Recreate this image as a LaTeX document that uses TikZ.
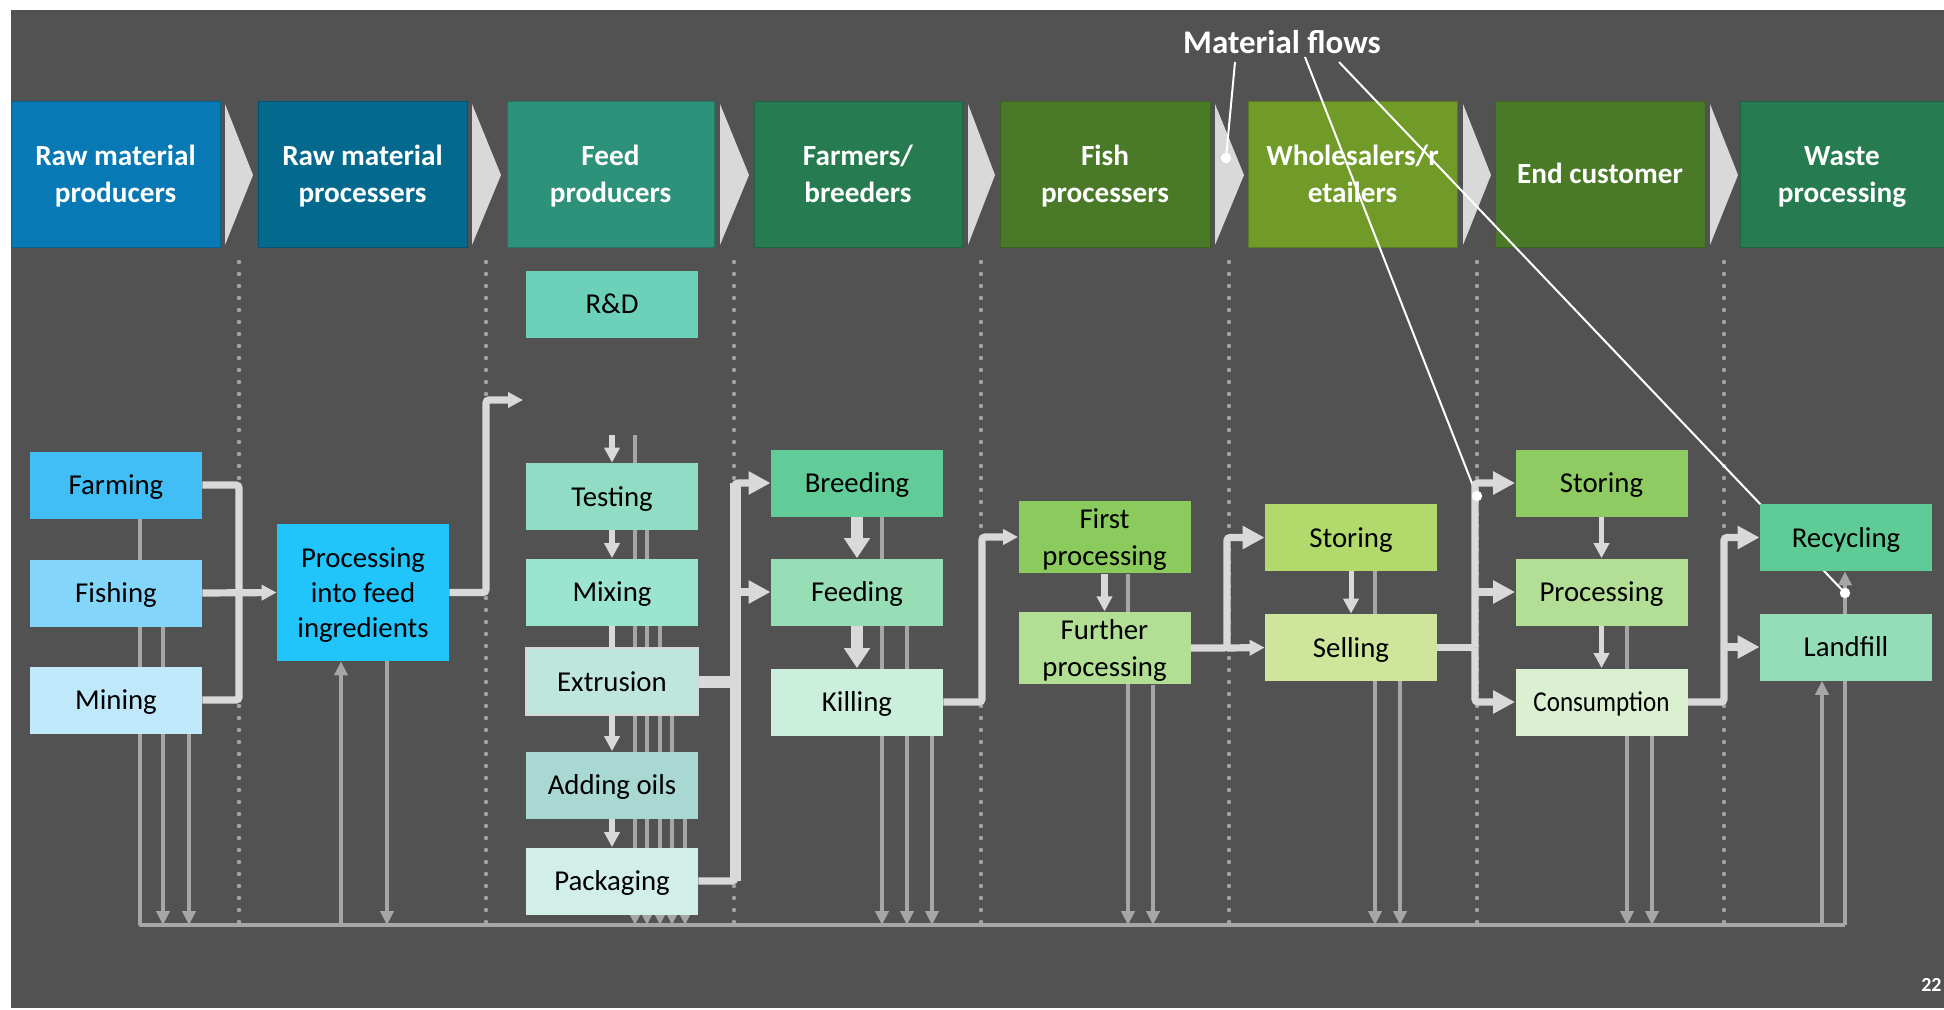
\documentclass[tikz,border=0pt]{standalone}
\usepackage{fontspec}
\setmainfont{Carlito}
\usepackage{graphicx}
\usetikzlibrary{arrows.meta}
\definecolor{bgc}{HTML}{525252}
\definecolor{flowc}{HTML}{D9D9D9}
\definecolor{thinc}{HTML}{A6A6A6}
\definecolor{dotc}{HTML}{A3A3A3}
\definecolor{chevc}{HTML}{D9D9D9}
\definecolor{extb}{HTML}{D6D6D6}
\definecolor{hA}{HTML}{0779B5}
\definecolor{hB}{HTML}{036A8E}
\definecolor{hC}{HTML}{2E917A}
\definecolor{hD}{HTML}{267C50}
\definecolor{hE}{HTML}{4A7A28}
\definecolor{hF}{HTML}{719B28}
\definecolor{cFarm}{HTML}{41BEF5}
\definecolor{cFish}{HTML}{84D5FA}
\definecolor{cMine}{HTML}{C0E8FB}
\definecolor{cProc}{HTML}{22C4FC}
\definecolor{cRD}{HTML}{6DD1B9}
\definecolor{cTest}{HTML}{91DCC4}
\definecolor{cMix}{HTML}{9BE5D0}
\definecolor{cExt}{HTML}{BEE6DD}
\definecolor{cOil}{HTML}{A9D7D1}
\definecolor{cPack}{HTML}{D1EFE8}
\definecolor{cBreed}{HTML}{62CC98}
\definecolor{cFeed}{HTML}{97DDB6}
\definecolor{cKill}{HTML}{CCEEDC}
\definecolor{cFirst}{HTML}{8BCB5E}
\definecolor{cFurther}{HTML}{B3DF95}
\definecolor{cStoreW}{HTML}{B2D96B}
\definecolor{cSell}{HTML}{CFE59C}
\definecolor{cStoreE}{HTML}{8ECC63}
\definecolor{cProcE}{HTML}{B2DE95}
\definecolor{cCons}{HTML}{DBEFD1}
\definecolor{cRecy}{HTML}{5FCC98}
\definecolor{cLand}{HTML}{95DDB8}
\newcommand\bxfont{\fontsize{14.4pt}{17.5pt}\selectfont}
\newcommand\hdfont{\fontsize{14.6pt}{17.5pt}\selectfont\bfseries}
\newcommand\pS{\rule[-3.9pt]{0pt}{17.6pt}}
\pgfdeclarelayer{bglayer}
\pgfdeclarelayer{lnlayer}
\pgfdeclarelayer{toplayer}
\pgfsetlayers{bglayer,lnlayer,main,toplayer}
\tikzset{
  hdr/.style={fill=#1, draw=#1!80!black, line width=0.5pt, minimum height=73pt,
    inner sep=0pt, text=white, font=\hdfont, align=center},
  box/.style={fill=#1, minimum width=86pt, minimum height=33.5pt, inner sep=0pt,
    font=\bxfont, align=center, text=black},
  dotline/.style={draw=dotc, line width=2.2pt, line cap=round, dash pattern=on 0pt off 6pt},
  wasteline/.style={draw=thinc, line width=1.7pt, line join=round},
  waste/.style={wasteline, -{Triangle[width=6.6pt,length=7pt]}},
  flow/.style={draw=flowc, line width=3.6pt, rounded corners=1.5pt},
  flowM/.style={draw=flowc, line width=3.2pt},
  flowS/.style={draw=flowc, line width=2.5pt},
  flowL/.style={draw=flowc, line width=6pt},
  tipN/.style={-{Triangle[width=7.5pt,length=7.5pt]}},
  tipB/.style={-{Triangle[width=11pt,length=11pt]}},
  tipL/.style={-{Triangle[width=12.5pt,length=10pt]}},
  callout/.style={draw=white, line width=1pt},
}
\newcommand\wasteDown[2]{\draw[waste] (#1,0 |- #2.south) -- (#1,0 |- bot);}
\begin{document}
\begin{tikzpicture}[x=0.5pt,y=-0.5pt]
\useasboundingbox (0,0) rectangle (1944,1009);
\begin{pgfonlayer}{bglayer}
\fill[white] (0,0) rectangle (1944,1009);
\fill[bgc] (11,10) rectangle (1944,1008);
% dotted separators
\foreach \xx in {239,486,734,981,1229,1477,1724}
  \draw[dotline] (\xx,262) -- (\xx,925);
% headers
\node[hdr=hA, minimum width=104.5pt] (h1) at (115.5,174) {\pS Raw material\\producers\pS};
\node[hdr=hB, minimum width=104.5pt] (h2) at (362.5,174) {\pS Raw material\\processers\pS};
\node[hdr=hC, minimum width=103.5pt] (h3) at (610.5,174) {\pS Feed\\producers\pS};
\node[hdr=hD, minimum width=104pt] (h4) at (858,174) {\pS Farmers/\\breeders\pS};
\node[hdr=hE, minimum width=105pt] (h5) at (1105,174) {\pS Fish\\processers\pS};
\node[hdr=hF, minimum width=104.5pt] (h6) at (1352.5,174) {\pS Wholesalers/r\\etailers\pS};
\node[hdr=hE, minimum width=105pt] (h7) at (1600,174) {\pS End customer\pS};
\node[hdr=hD, minimum width=102pt] (h8) at (1842,174) {\pS Waste\\processing\pS};
% chevrons
\foreach \l/\t in {225/253,472/501,720/749,968/995,1215/1244,1463/1491,1710/1738}
  \fill[chevc] (\l,104) -- (\t,175) -- (\l,245) -- cycle;
\end{pgfonlayer}

% process boxes
\node[box=cFarm] (farming) at (116,485) {\pS Farming\pS};
\node[box=cFish] (fishing) at (116,593) {\pS Fishing\pS};
\node[box=cMine] (mining) at (116,700) {\pS Mining\pS};
\node[box=cProc, minimum height=68.5pt] (procfeed) at (363,592.5) {\pS Processing\\into feed\\ingredients\pS};
\node[box=cRD] (rd) at (612,304) {\pS R\&D\pS};
\node[box=cTest] (testing) at (612,496.5) {\pS Testing\pS};
\node[box=cMix] (mixing) at (612,592) {\pS Mixing\pS};
\node[box=cExt, minimum width=86pt, minimum height=33.5pt, draw=extb, line width=0.9pt] (extrusion) at (612,681.5) {\pS Extrusion\pS};
\node[box=cOil] (oils) at (612,785) {\pS Adding oils\pS};
\node[box=cPack] (packaging) at (612,881) {\pS Packaging\pS};
\node[box=cBreed] (breeding) at (857,483) {\pS Breeding\pS};
\node[box=cFeed] (feeding) at (857,592) {\pS Feeding\pS};
\node[box=cKill] (killing) at (857,702) {\pS Killing\pS};
\node[box=cFirst] (firstproc) at (1104.5,537) {\pS First\\processing\pS};
\node[box=cFurther] (furtherproc) at (1104.5,648) {\pS Further\\processing\pS};
\node[box=cStoreW] (storingW) at (1351,537.5) {\pS Storing\pS};
\node[box=cSell] (selling) at (1351,647.5) {\pS Selling\pS};
\node[box=cStoreE] (storingE) at (1601.5,483) {\pS Storing\pS};
\node[box=cProcE] (processingE) at (1601.5,592) {\pS Processing\pS};
\node[box=cCons] (consumption) at (1601.5,702) {\pS\scalebox{0.87}[1]{Consumption}\pS};
\node[box=cRecy] (recycling) at (1846,537.5) {\pS Recycling\pS};
\node[box=cLand] (landfill) at (1846,647) {\pS Landfill\pS};

\node[text=white, font=\fontsize{16.5pt}{19pt}\selectfont\bfseries] (mf) at (1282,42) {Material flows};
\node[text=white, font=\fontsize{10pt}{12pt}\selectfont\bfseries, anchor=east, inner sep=0pt] (pg) at (1942,985) {22};

\coordinate (bot) at (140,925);
\coordinate (j1) at (239,593);
\coordinate (rdin) at (523,400);
\coordinate (tin) at (612,435);
\coordinate (tline) at (635,435);
\coordinate (b3) at (735,592);
\coordinate (b4) at (982,600);
\coordinate (b5) at (1227,648);
\coordinate (b6) at (1475,647.5);
\coordinate (b7) at (1724,647);
\coordinate (c1s) at (1235,62);
\coordinate (c1e) at (1226,158);
\coordinate (c2s) at (1305,57);
\coordinate (c2e) at (1477,496);
\coordinate (c3s) at (1339,62);
\coordinate (c3e) at (1845,593);

\begin{pgfonlayer}{lnlayer}
% waste lines
\draw[wasteline] (140,0 |- farming.south) -- (bot) -- (1845,0 |- bot);
\draw[waste] (1845,0 |- bot) -- (1845,0 |- recycling.south);
\draw[waste] (1822,0 |- bot) -- (1822,0 |- landfill.south);
\draw[waste] (341,0 |- bot) -- (341,0 |- procfeed.south);
\wasteDown{163}{fishing}
\wasteDown{189}{mining}
\wasteDown{387}{procfeed}
\draw[waste] (tline) -- (635,0 |- bot);
\wasteDown{647}{testing}
\wasteDown{660}{mixing}
\wasteDown{672}{extrusion}
\wasteDown{685}{oils}
\wasteDown{882}{breeding}
\wasteDown{907}{feeding}
\wasteDown{932}{killing}
\wasteDown{1128}{firstproc}
\wasteDown{1153}{furtherproc}
\wasteDown{1375}{storingW}
\wasteDown{1400}{selling}
\wasteDown{1627}{processingE}
\wasteDown{1652}{consumption}
% callout lines
\draw[callout] (c1s) -- (c1e);
\draw[callout] (c2s) -- (c2e);
\draw[callout] (c3s) -- (c3e);
% material flows
\draw[flow] (farming.east) -| (j1);
\draw[flow] (mining.east) -| (j1);
\draw[flow,tipN] (fishing.east) -- (procfeed.west);
\draw[flow,tipN] (procfeed.east) -| (486,400) -- (rdin);
\draw[flowM,tipN] (tin) -- (testing.north);
\draw[flowM,tipN] (testing.south) -- (mixing.north);
\draw[flowM] (mixing.south) -- (extrusion.north);
\draw[flowM,tipN] (extrusion.south) -- (oils.north);
\draw[flowM,tipN] (oils.south) -- (packaging.north);
\draw[flow, line width=6pt] (extrusion.east) -- (extrusion.east -| b3);
\draw[flow, line width=5.5pt] (packaging.east -| b3) -- (b3 |- breeding.west);
\draw[flow,tipB] (packaging.east) -| (b3) |- (breeding.west);
\draw[flow,tipB] (b3) -- (feeding.west);
\draw[flowL,tipL] (breeding.south) -- (feeding.north);
\draw[flowL,tipL] (feeding.south) -- (killing.north);
\draw[flow,tipN] (killing.east) -- (killing.east -| b4) |- (firstproc.west);
\draw[flowM,tipN] (firstproc.south) -- (furtherproc.north);
\draw[flow,tipB] (furtherproc.east) -- (b5) |- (storingW.west);
\draw[flow,tipN] (b5) -- (selling.west);
\draw[flowS,tipN] (storingW.south) -- (selling.north);
\draw[flow] (selling.east) -- (b6);
\draw[flow,tipB] (b6) |- (storingE.west);
\draw[flow,tipB] (b6) |- (consumption.west);
\draw[flow,tipB] (b6 |- processingE.west) -- (processingE.west);
\draw[flowS,tipN] (storingE.south) -- (processingE.north);
\draw[flowS,tipN] (processingE.south) -- (consumption.north);
\draw[flow] (consumption.east) -| (b7);
\draw[flow,tipB] (b7) |- (recycling.west);
\draw[flow,tipB] (b7) -- (landfill.west);
\end{pgfonlayer}

\begin{pgfonlayer}{toplayer}
\fill[white] (c1e) circle (2.6pt);
\fill[white] (c2e) circle (2.6pt);
\fill[white] (c3e) circle (2.6pt);
\end{pgfonlayer}
\end{tikzpicture}
\end{document}
